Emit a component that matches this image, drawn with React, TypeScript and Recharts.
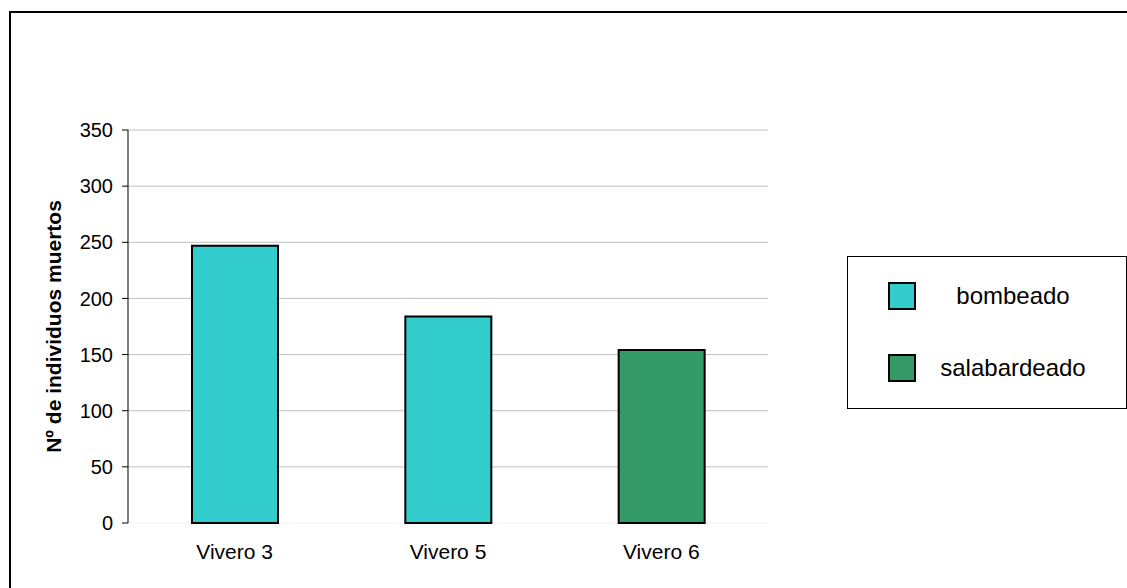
import React from 'react';
import { BarChart, Bar, XAxis, YAxis, CartesianGrid, Legend } from 'recharts';

const categories = ['Vivero 3', 'Vivero 5', 'Vivero 6'];
const bombeado = [247, 184, null];
const salabardeado = [null, null, 154];
const yTicks = [0, 50, 100, 150, 200, 250, 300, 350];
const edgeTicks = [0, 1, 2, 3];

const series = [
  { key: 'bombeado', name: 'bombeado', fill: '#33CCCC' },
  { key: 'salabardeado', name: 'salabardeado', fill: '#339966' },
];

const data = categories.map((name, i) => ({
  name,
  bombeado: bombeado[i],
  salabardeado: salabardeado[i],
}));

const font = '"Liberation Sans", Arial, sans-serif';

function LegendBox() {
  return (
    <div
      style={{
        boxSizing: 'border-box',
        width: 280,
        height: 153,
        border: '1.5px solid #000',
        background: '#fff',
        fontFamily: font,
        fontSize: 24,
        color: '#000',
        position: 'relative',
      }}
    >
      {series.map((s, i) => (
        <div
          key={s.key}
          style={{ position: 'absolute', left: 0, top: 25 + i * 72, height: 28, width: '100%' }}
        >
          <span
            style={{
              position: 'absolute',
              boxSizing: 'border-box',
              left: 40,
              top: 0,
              width: 28,
              height: 28,
              background: s.fill,
              border: '2px solid #000',
            }}
          />
          <span
            style={{
              position: 'absolute',
              left: 80,
              width: 170,
              top: 0,
              lineHeight: '28px',
              textAlign: 'center',
            }}
          >
            {s.name}
          </span>
        </div>
      ))}
    </div>
  );
}

export default function App() {
  return (
    <div
      style={{
        position: 'absolute',
        left: 0,
        top: 0,
        width: 1127,
        height: 588,
        background: '#fff',
        overflow: 'hidden',
      }}
    >
      <div
        style={{
          position: 'absolute',
          left: 9,
          top: 11,
          width: 1200,
          height: 700,
          borderTop: '2px solid #000',
          borderLeft: '2px solid #000',
        }}
      />
      <div style={{ position: 'absolute', left: 0, top: 0 }}>
        <BarChart
          width={1127}
          height={588}
          data={data}
          margin={{ top: 130, right: 359, bottom: 35, left: 68 }}
        >
          <CartesianGrid
            xAxisId="cat"
            vertical={false}
            horizontal={(p: any) => (
              <line
                key={p.key ?? p.index}
                x1={p.x1}
                x2={p.x2}
                y1={p.y1}
                y2={p.y2}
                stroke={p.index === 0 ? '#f2f2f2' : '#c0c0c0'}
                strokeWidth={1}
              />
            )}
          />
          <XAxis
            xAxisId="edge"
            type="number"
            domain={[0, 3]}
            ticks={edgeTicks}
            tick={false}
            tickSize={6}
            height={0}
            stroke="#333"
          />
          <XAxis
            xAxisId="cat"
            dataKey="name"
            axisLine={false}
            tickLine={false}
            tickSize={0}
            tickMargin={21}
            height={30}
            tick={{ fill: '#000', fontSize: 21, fontFamily: font }}
          />
          <YAxis
            width={60}
            domain={[0, 350]}
            ticks={yTicks}
            interval={0}
            tickSize={6}
            tickMargin={9}
            stroke="#000"
            tick={{ fill: '#000', fontSize: 20, fontFamily: font }}
            label={{
              value: 'Nº de individuos muertos',
              angle: -90,
              position: 'insideLeft',
              offset: -14,
              style: { textAnchor: 'middle', fontFamily: font, fontSize: 21, fontWeight: 'bold', fill: '#000' },
            }}
          />
          <Legend
            layout="vertical"
            align="center"
            verticalAlign="middle"
            content={() => <LegendBox />}
            wrapperStyle={{ position: 'absolute', left: 847, top: 256, width: 280, height: 153 }}
          />
          {series.map((s) => (
            <Bar
              key={s.key}
              xAxisId="cat"
              dataKey={s.key}
              name={s.name}
              stackId="a"
              barSize={86}
              fill={s.fill}
              stroke="#000"
              strokeWidth={2}
              isAnimationActive={false}
            />
          ))}
        </BarChart>
      </div>
    </div>
  );
}
